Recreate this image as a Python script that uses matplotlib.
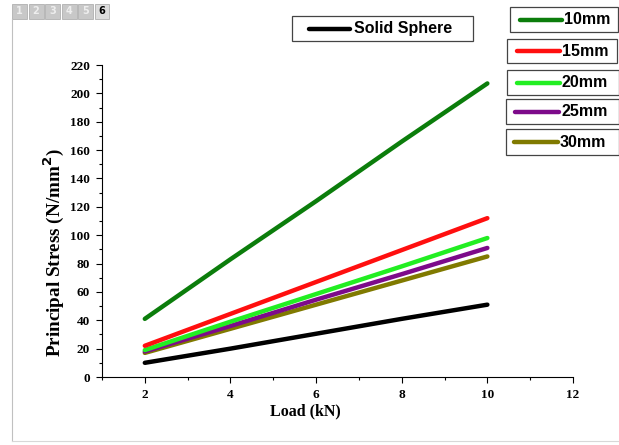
import matplotlib.pyplot as plt
from matplotlib.lines import Line2D
from matplotlib.patches import Rectangle

# data
load = [2, 4, 6, 8, 10]
solid = [10, 20, 30.5, 41, 51]
d10 = [41, 83, 124, 166, 207]
d15 = [22, 44.5, 67, 89.5, 112]
d20 = [19, 39, 58.5, 78, 98]
d25 = [18, 36, 54.5, 72.5, 91]
d30 = [17, 34, 51, 68, 85]

names = ['10mm', '15mm', '20mm', '25mm', '30mm']
series = [d10, d15, d20, d25, d30]
colors = ['#0b7d0b', '#ff0f0f', '#22ee22', '#7d0a8a', '#807a00']
xticks = [2, 4, 6, 8, 10, 12]
yticks = list(range(0, 221, 20))

W, H = 619, 445
fig = plt.figure(figsize=(W / 100, H / 100), dpi=100)
ax = fig.add_axes([102 / W, 1 - 377 / H, (573 - 102) / W, (377 - 65) / H])

ax.plot(load, solid, color='black', lw=3.2, solid_capstyle='round')
for vals, c in zip(series[::-1], colors[::-1]):
    ax.plot(load, vals, color=c, lw=3.2, solid_capstyle='round')

ax.set_xlim(1, 12)
ax.set_ylim(0, 220)
ax.set_xticks(xticks)
ax.set_xticks(range(1, 13, 2), minor=True)
ax.set_yticks(yticks)
ax.set_yticks(range(10, 220, 20), minor=True)
ax.spines['top'].set_visible(False)
ax.spines['right'].set_visible(False)
ax.tick_params(direction='out', length=4.5, width=0.8, labelsize=9.5, pad=4)
ax.tick_params(which='minor', direction='out', length=2.5, width=0.8)
for lab in ax.get_xticklabels() + ax.get_yticklabels():
    lab.set_fontfamily('Liberation Serif')
    lab.set_fontweight('bold')

ax.set_xlabel('Load (kN)', fontfamily='Liberation Serif', fontweight='bold', fontsize=11.5)
ax.xaxis.set_label_coords((305 - 102) / (573 - 102), -0.085)
ax.set_ylabel('Principal Stress (N/mm$^{\\mathbf{2}}$)', fontfamily='Liberation Serif',
              fontweight='bold', fontsize=13.8)
ax.yaxis.set_label_coords((66 - 102) / (573 - 102), (377 - 253) / (377 - 65))


# separate legend boxes, drawn in figure pixels
def px(x, y):
    return x / W, 1 - y / H


def box(label, color, x0, x1, y0, y1, lx0, lx1, tx):
    fig.add_artist(Rectangle(px(x0, y1), (x1 - x0) / W, (y1 - y0) / H, transform=fig.transFigure,
                             facecolor='white', edgecolor='#444444', lw=0.9))
    ym = (y0 + y1) / 2
    fig.add_artist(Line2D([lx0 / W, lx1 / W], [1 - ym / H] * 2, transform=fig.transFigure,
                          color=color, lw=3.2, solid_capstyle='round'))
    fig.text(*px(tx, ym), label, ha='left', va='center', fontsize=11.5,
             fontfamily='Liberation Sans', fontweight='bold')


box('Solid Sphere', 'black', 292, 473, 16, 41, 309, 350, 354)
boxes = [(510, 618, 7, 32, 520, 562), (507, 617, 39, 63, 517, 560),
         (507, 619, 70, 95, 517, 560), (506, 619, 99, 124, 515, 559),
         (506, 619, 129, 155, 514, 558)]
for n, c, b in zip(names, colors, boxes):
    box(n, c, *b, b[5] + 2)

# viewer tabs and border
for i in range(6):
    x0 = 12 + i * 16.5
    fig.add_artist(Rectangle((x0 / W, 1 - 19 / H), 15 / W, 15 / H, transform=fig.transFigure,
                             facecolor='#c8c8c8' if i < 5 else '#dcdcdc', edgecolor='#b0b0b0', lw=0.6))
    fig.text((x0 + 7.5) / W, 1 - 11.5 / H, str(i + 1), ha='center', va='center', fontsize=7,
             fontweight='bold', color='#eeeeee' if i < 5 else 'black')
fig.add_artist(Line2D([12 / W, 12 / W], [1 - 19 / H, 0.01], transform=fig.transFigure,
                      color='#c0c0c0', lw=0.8))
fig.add_artist(Line2D([12 / W, 1], [0.01, 0.01], transform=fig.transFigure,
                      color='#d8d8d8', lw=0.8))

fig.savefig('out.png', dpi=100)
